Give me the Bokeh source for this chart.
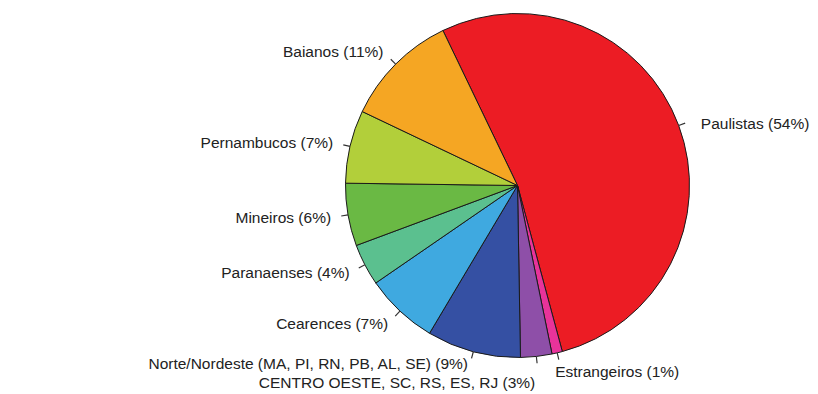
import math

from bokeh.core.properties import value
from bokeh.embed import file_html
from bokeh.models import ColumnDataSource, Range1d
from bokeh.plotting import figure
from bokeh.resources import INLINE

# Origin of the survey respondents (share of total, %)
groups = [
    "Paulistas",
    "Estrangeiros",
    "CENTRO OESTE, SC, RS, ES, RJ",
    "Norte/Nordeste (MA, PI, RN, PB, AL, SE)",
    "Cearences",
    "Paranaenses",
    "Mineiros",
    "Pernambucos",
    "Baianos",
]
shares = [54, 1, 3, 9, 7, 4, 6, 7, 11]

# Slice fills, in the same order as the groups
palette = ["#EC1C24", "#E8339A", "#8E4FA8", "#3550A3", "#3FA9E0",
           "#5BC08F", "#6AB944", "#B2CF3A", "#F5A623"]

# Canvas geometry (pixels) and pie placement
W, H = 818, 394
R_PX = 172
CX, CY = 517, 185
START_DEG = -25.7          # first slice starts here, clockwise from 12 o'clock
LABEL_R = 1.1

# Per-label placement tweaks: alignment, baseline and pixel nudges
label_tweaks = {
    "CENTRO OESTE, SC, RS, ES, RJ": dict(align="right", baseline="top", dx=-3, dy=0),
    "Norte/Nordeste (MA, PI, RN, PB, AL, SE)": dict(dy=-5),
    "Estrangeiros": dict(dx=-6, dy=2),
    "Paulistas": dict(dx=6, dy=4),
}

p = figure(
    width=W, height=H, output_backend="svg", toolbar_location=None,
    x_axis_type=None, y_axis_type=None, min_border=0,
    x_range=Range1d(-CX / R_PX, (W - CX) / R_PX),
    y_range=Range1d(-(H - CY) / R_PX, CY / R_PX),
)
p.outline_line_color = None
p.grid.visible = False
p.background_fill_color = "white"
p.border_fill_color = "white"

total = float(sum(shares))
starts, ends, mids = [], [], []
cum = START_DEG
for s in shares:
    span = 360.0 * s / total
    a0, a1 = cum, cum + span           # clockwise angles from the top
    starts.append(math.radians(90 - a1))
    ends.append(math.radians(90 - a0))
    mids.append((a0 + a1) / 2.0)
    cum = a1

wedges = ColumnDataSource(dict(start=starts, end=ends, color=palette, name=groups))
p.wedge(x=0, y=0, radius=1, start_angle="start", end_angle="end",
        direction="anticlock", fill_color="color", line_color="#1a1a1a",
        line_width=1, source=wedges)

# Short leader ticks just outside the rim
tx0 = [math.sin(math.radians(m)) for m in mids]
ty0 = [math.cos(math.radians(m)) for m in mids]
p.segment(x0=tx0, y0=ty0,
          x1=[1.04 * v for v in tx0], y1=[1.04 * v for v in ty0],
          line_color="#333333", line_width=1.2)

# Labels, grouped by alignment / baseline
label_groups = {}
for name, pct, m in zip(groups, shares, mids):
    lx = LABEL_R * math.sin(math.radians(m))
    ly = LABEL_R * math.cos(math.radians(m))
    tw = label_tweaks.get(name, {})
    align = tw.get("align", "left" if lx >= 0 else "right")
    baseline = tw.get("baseline", "middle")
    g = label_groups.setdefault((align, baseline),
                                dict(x=[], y=[], text=[], dx=[], dy=[]))
    g["x"].append(lx)
    g["y"].append(ly)
    g["text"].append(f"{name} ({pct}%)")
    g["dx"].append(tw.get("dx", 0))
    g["dy"].append(tw.get("dy", 0))

for (align, baseline), g in label_groups.items():
    p.text(x="x", y="y", text="text", x_offset="dx", y_offset="dy",
           source=ColumnDataSource(g), text_align=align,
           text_baseline=baseline, text_font=value("Liberation Sans"),
           text_font_size="15.5px", text_color="#222222")

open("out.html", "w").write(file_html(p, INLINE))
